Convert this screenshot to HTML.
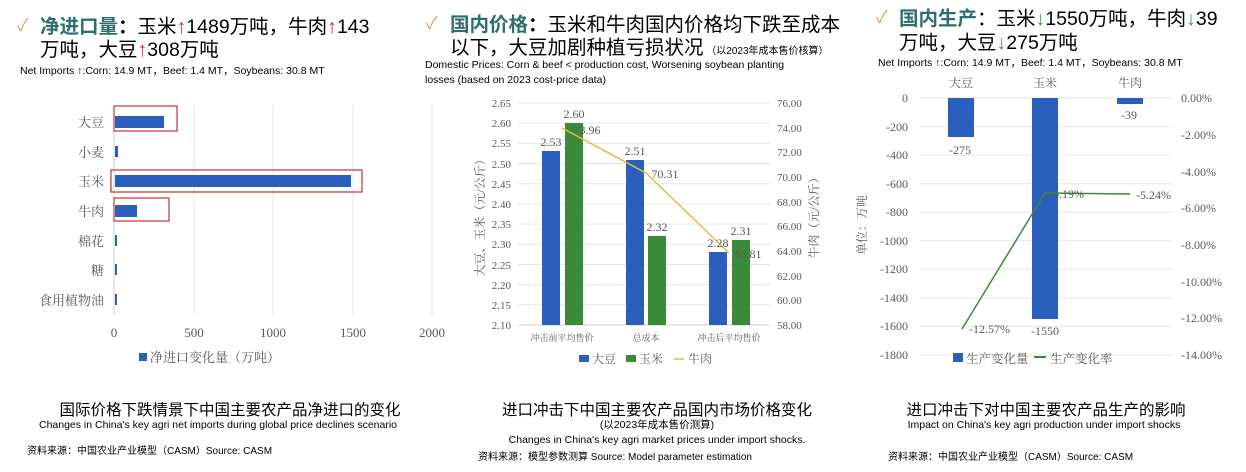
<!DOCTYPE html>
<html><head><meta charset="utf-8"><style>
body{margin:0;background:#fff;width:1246px;height:472px;overflow:hidden}
svg{display:block}
.s{font-family:"Liberation Sans","Noto Sans CJK SC",sans-serif}
.r{font-family:"Liberation Serif","Noto Serif CJK SC",serif;fill:#595959}
</style></head><body>
<svg width="1246" height="472" xmlns="http://www.w3.org/2000/svg">
<!-- Panel 1 header -->
<text x="17" y="31" class="s" font-size="17" fill="#d9a35a">✓</text>
<text x="40" y="33" class="s" font-size="19.5" fill="#000"><tspan fill="#2e6e6e" font-weight="bold">净进口量</tspan><tspan font-weight="bold">：</tspan>玉米<tspan fill="#e02020" font-weight="bold">↑</tspan>1489万吨，牛肉<tspan fill="#e02020" font-weight="bold">↑</tspan>143</text>
<text x="40" y="56" class="s" font-size="19.5" fill="#000">万吨，大豆<tspan fill="#e02020" font-weight="bold">↑</tspan>308万吨</text>
<text x="20" y="74" class="s" font-size="10.5" fill="#000">Net Imports ↑:Corn: 14.9 MT，Beef: 1.4 MT，Soybeans: 30.8 MT</text>
<!-- Panel 1 chart -->
<g stroke="#e4e4e4" stroke-width="1">
<line x1="194" y1="105" x2="194" y2="315"/><line x1="273" y1="105" x2="273" y2="315"/><line x1="353" y1="105" x2="353" y2="315"/><line x1="432" y1="105" x2="432" y2="315"/>
</g>
<line x1="114" y1="105" x2="114" y2="315" stroke="#d0d0d0"/>
<g fill="#2a5fbd">
<rect x="115" y="116" width="49" height="12"/>
<rect x="115" y="146" width="3" height="11"/>
<rect x="115" y="175" width="236" height="12"/>
<rect x="115" y="205" width="22" height="12"/>
<rect x="115" y="235" width="2" height="11"/>
<rect x="115" y="264" width="2" height="11"/>
<rect x="115" y="294" width="2" height="11"/>
</g>
<g fill="none" stroke="#c83030" stroke-width="1.2">
<rect x="114" y="106" width="63" height="25"/>
<rect x="111" y="170" width="251" height="22"/>
<rect x="114" y="198" width="55" height="23"/>
</g>
<g class="r" font-size="13" text-anchor="end">
<text x="104" y="127">大豆</text><text x="104" y="157">小麦</text><text x="104" y="186">玉米</text><text x="104" y="216">牛肉</text><text x="104" y="246">棉花</text><text x="104" y="275">糖</text><text x="104" y="305">食用植物油</text>
</g>
<g class="r" font-size="13" text-anchor="middle">
<text x="114" y="337">0</text><text x="194" y="337">500</text><text x="273" y="337">1000</text><text x="353" y="337">1500</text><text x="432" y="337">2000</text>
</g>
<rect x="139" y="353" width="8" height="8" fill="#2a5fbd"/>
<text x="150" y="362" class="r" font-size="13">净进口变化量（万吨）</text>
<text x="230" y="415" class="s" font-size="15.5" text-anchor="middle" fill="#000">国际价格下跌情景下中国主要农产品净进口的变化</text>
<text x="218" y="428" class="s" font-size="10.5" text-anchor="middle" fill="#000">Changes in China's key agri net imports during global price declines scenario</text>
<text x="27" y="454" class="s" font-size="10" fill="#000">资料来源：中国农业产业模型（CASM）Source: CASM</text>

<!-- Panel 2 header -->
<text x="426" y="29" class="s" font-size="17" fill="#d9a35a">✓</text>
<text x="450" y="31" class="s" font-size="19.5" fill="#000"><tspan fill="#2e6e6e" font-weight="bold">国内价格</tspan><tspan font-weight="bold">：</tspan>玉米和牛肉国内价格均下跌至成本</text>
<text x="450" y="54" class="s" font-size="19.5" fill="#000">以下，大豆加剧种植亏损状况<tspan font-size="10"> （以2023年成本售价核算）</tspan></text>
<text x="425" y="68" class="s" font-size="10.5" fill="#000">Domestic Prices: Corn &amp; beef &lt; production cost, Worsening soybean planting</text>
<text x="425" y="83" class="s" font-size="10.5" fill="#000">losses (based on 2023 cost-price data)</text>
<!-- Panel 2 chart -->
<g stroke="#e6e6e6">
<line x1="518" y1="103" x2="770" y2="103"/><line x1="518" y1="123" x2="770" y2="123"/><line x1="518" y1="143.4" x2="770" y2="143.4"/><line x1="518" y1="163.5" x2="770" y2="163.5"/><line x1="518" y1="183.7" x2="770" y2="183.7"/><line x1="518" y1="203.9" x2="770" y2="203.9"/><line x1="518" y1="224.1" x2="770" y2="224.1"/><line x1="518" y1="244.3" x2="770" y2="244.3"/><line x1="518" y1="264.5" x2="770" y2="264.5"/><line x1="518" y1="284.6" x2="770" y2="284.6"/><line x1="518" y1="304.8" x2="770" y2="304.8"/>
</g>
<line x1="518" y1="325" x2="770" y2="325" stroke="#d0d0d0"/>
<g class="r" font-size="11" text-anchor="end">
<text x="511" y="107">2.65</text><text x="511" y="127">2.60</text><text x="511" y="147">2.55</text><text x="511" y="168">2.50</text><text x="511" y="188">2.45</text><text x="511" y="208">2.40</text><text x="511" y="228">2.35</text><text x="511" y="248">2.30</text><text x="511" y="269">2.25</text><text x="511" y="289">2.20</text><text x="511" y="309">2.15</text><text x="511" y="329">2.10</text>
</g>
<g class="r" font-size="11">
<text x="777" y="107">76.00</text><text x="777" y="132">74.00</text><text x="777" y="156">72.00</text><text x="777" y="181">70.00</text><text x="777" y="206">68.00</text><text x="777" y="230">66.00</text><text x="777" y="255">64.00</text><text x="777" y="280">62.00</text><text x="777" y="304">60.00</text><text x="777" y="329">58.00</text>
</g>
<text class="r" font-size="12" transform="translate(484,215) rotate(-90)" text-anchor="middle">大豆、玉米（元/公斤）</text>
<text class="r" font-size="12" transform="translate(818,215) rotate(-90)" text-anchor="middle">牛肉（元/公斤）</text>
<g fill="#2a5fbd"><rect x="542" y="151" width="18" height="174"/><rect x="626" y="160" width="18" height="165"/><rect x="709" y="252" width="18" height="73"/></g>
<g fill="#3a8a3a"><rect x="565" y="123" width="18" height="202"/><rect x="648" y="236" width="18" height="89"/><rect x="732" y="240" width="18" height="85"/></g>
<polyline points="562,128 646,173 729,253" fill="none" stroke="#d8c040" stroke-width="1.5"/>
<g class="r" font-size="12" fill="#404040" text-anchor="middle">
<text x="551" y="146">2.53</text><text x="574" y="118">2.60</text><text x="587" y="134">73.96</text>
<text x="635" y="155">2.51</text><text x="665" y="178">70.31</text><text x="657" y="231">2.32</text>
<text x="718" y="247">2.28</text><text x="741" y="235">2.31</text><text x="748" y="258">63.81</text>
</g>
<g class="r" font-size="9" text-anchor="middle"><text x="562" y="341">冲击前平均售价</text><text x="646" y="341">总成本</text><text x="729" y="341">冲击后平均售价</text></g>
<rect x="579" y="355" width="10" height="7" fill="#2a5fbd"/><text x="592" y="363" class="r" font-size="12">大豆</text>
<rect x="626" y="355" width="10" height="7" fill="#3a8a3a"/><text x="639" y="363" class="r" font-size="12">玉米</text>
<line x1="674" y1="359" x2="684" y2="359" stroke="#d8c040" stroke-width="1.5"/><text x="688" y="363" class="r" font-size="12">牛肉</text>
<text x="657" y="415" class="s" font-size="15.5" text-anchor="middle" fill="#000">进口冲击下中国主要农产品国内市场价格变化</text>
<text x="657" y="428" class="s" font-size="10.5" text-anchor="middle" fill="#000">(以2023年成本售价测算)</text>
<text x="657" y="443" class="s" font-size="10.5" text-anchor="middle" fill="#000">Changes in China's key agri market prices under import shocks.</text>
<text x="478" y="460" class="s" font-size="10" fill="#000">资料来源：模型参数测算  Source: Model parameter estimation</text>

<!-- Panel 3 header -->
<text x="876" y="23" class="s" font-size="17" fill="#d9a35a">✓</text>
<text x="899" y="25" class="s" font-size="19.5" fill="#000"><tspan fill="#2e6e6e" font-weight="bold">国内生产</tspan>：玉米<tspan fill="#3aa040" font-weight="bold">↓</tspan>1550万吨，牛肉<tspan fill="#3aa040" font-weight="bold">↓</tspan>39</text>
<text x="899" y="49" class="s" font-size="19.5" fill="#000">万吨，大豆<tspan fill="#3aa040" font-weight="bold">↓</tspan>275万吨</text>
<text x="878" y="66" class="s" font-size="10.5" fill="#000">Net Imports ↑:Corn: 14.9 MT，Beef: 1.4 MT，Soybeans: 30.8 MT</text>
<!-- Panel 3 chart -->
<g stroke="#e6e6e6">
<line x1="920" y1="98" x2="1172" y2="98"/><line x1="920" y1="126.6" x2="1172" y2="126.6"/><line x1="920" y1="155.1" x2="1172" y2="155.1"/><line x1="920" y1="183.7" x2="1172" y2="183.7"/><line x1="920" y1="212.2" x2="1172" y2="212.2"/><line x1="920" y1="240.8" x2="1172" y2="240.8"/><line x1="920" y1="269.3" x2="1172" y2="269.3"/><line x1="920" y1="297.9" x2="1172" y2="297.9"/><line x1="920" y1="326.4" x2="1172" y2="326.4"/><line x1="920" y1="355" x2="1172" y2="355"/>
</g>
<g class="r" font-size="12" text-anchor="middle"><text x="961" y="87">大豆</text><text x="1045" y="87">玉米</text><text x="1130" y="87">牛肉</text></g>
<g class="r" font-size="12" text-anchor="end">
<text x="908" y="102">0</text><text x="908" y="131">-200</text><text x="908" y="159">-400</text><text x="908" y="188">-600</text><text x="908" y="216">-800</text><text x="908" y="245">-1000</text><text x="908" y="273">-1200</text><text x="908" y="302">-1400</text><text x="908" y="330">-1600</text><text x="908" y="359">-1800</text>
</g>
<g class="r" font-size="12">
<text x="1181" y="102">0.00%</text><text x="1181" y="139">-2.00%</text><text x="1181" y="176">-4.00%</text><text x="1181" y="212">-6.00%</text><text x="1181" y="249">-8.00%</text><text x="1181" y="286">-10.00%</text><text x="1181" y="322">-12.00%</text><text x="1181" y="359">-14.00%</text>
</g>
<text class="r" font-size="12" transform="translate(866,225) rotate(-90)" text-anchor="middle">单位：万吨</text>
<g fill="#2a5fbd"><rect x="948" y="98" width="26" height="39"/><rect x="1032" y="98" width="26" height="221"/><rect x="1117" y="98" width="26" height="6"/></g>
<polyline points="962,329 1045,193 1130,194" fill="none" stroke="#3a8a3a" stroke-width="1.5"/>
<g class="r" font-size="12" fill="#404040">
<text x="949" y="154">-275</text><text x="1121" y="119">-39</text><text x="1049" y="198">-5.19%</text><text x="1136" y="199">-5.24%</text><text x="969" y="333">-12.57%</text><text x="1031" y="335">-1550</text>
</g>
<rect x="953" y="353" width="10" height="9" fill="#2a5fbd"/><text x="966" y="363" class="r" font-size="12.5">生产变化量</text>
<line x1="1034" y1="357" x2="1046" y2="357" stroke="#3a8a3a" stroke-width="2"/><text x="1050" y="363" class="r" font-size="12.5">生产变化率</text>
<text x="1046" y="415" class="s" font-size="15.5" text-anchor="middle" fill="#000">进口冲击下对中国主要农产品生产的影响</text>
<text x="1044" y="428" class="s" font-size="10.5" text-anchor="middle" fill="#000">Impact on China's key agri production under import shocks</text>
<text x="888" y="460" class="s" font-size="10" fill="#000">资料来源：中国农业产业模型（CASM）Source: CASM</text>
</svg>
</body></html>
